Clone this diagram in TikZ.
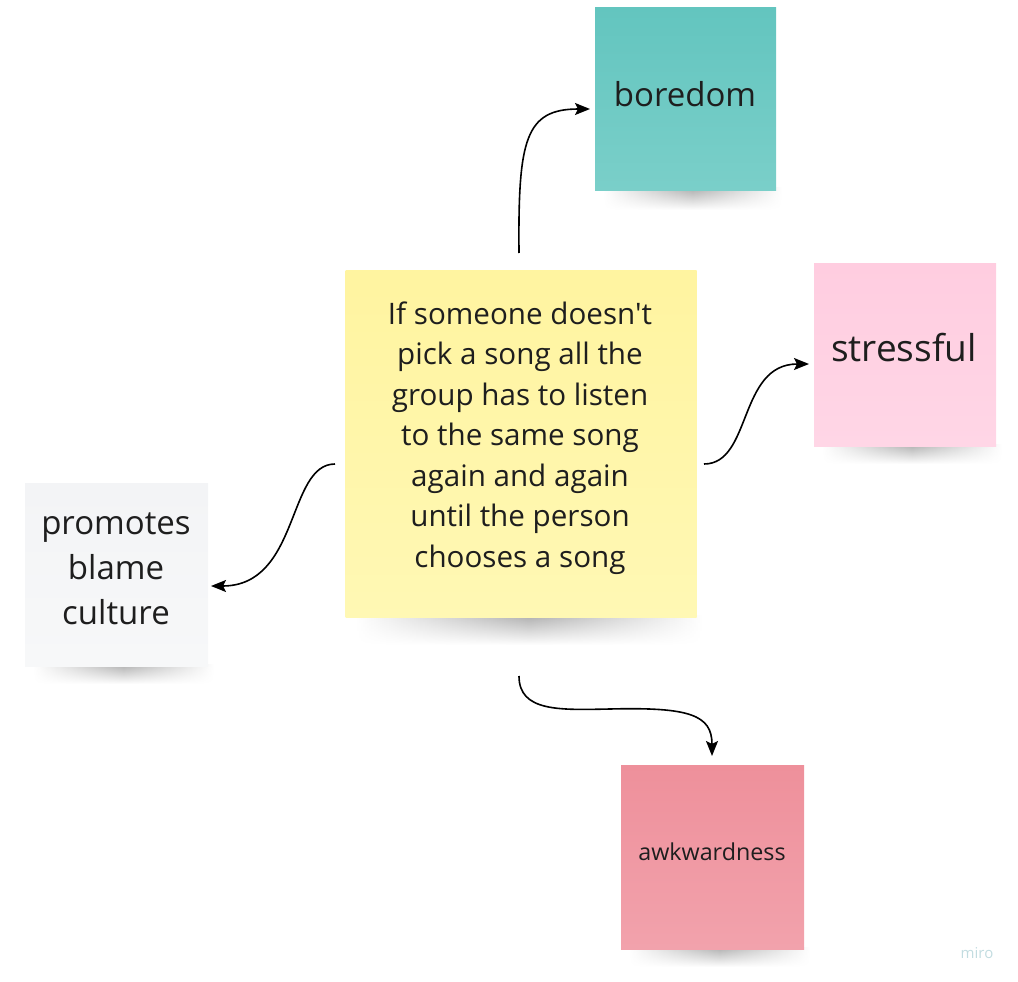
\documentclass[tikz,border=0pt]{standalone}
\usepackage{fontspec}
\setmainfont{Open Sans}[Ligatures=TeXOff]
\usetikzlibrary{arrows.meta,fadings}
\definecolor{tealA}{HTML}{63C5BF}
\definecolor{tealB}{HTML}{7ACFC9}
\definecolor{pinkA}{HTML}{FFCDE0}
\definecolor{pinkB}{HTML}{FFD6E6}
\definecolor{yelA}{HTML}{FFF4A0}
\definecolor{yelB}{HTML}{FFF8B4}
\definecolor{greyA}{HTML}{F3F4F6}
\definecolor{greyB}{HTML}{F7F8F9}
\definecolor{redA}{HTML}{EE909B}
\definecolor{redB}{HTML}{F2A2AC}
\definecolor{inkc}{HTML}{1E1E1E}
\definecolor{miroc}{HTML}{C2DCE0}
\tikzset{
  note/.style={rectangle, inner sep=0pt, align=center, text=inkc},
  conn/.style={line width=1.6pt, black, -{Stealth[length=15pt,width=12pt,inset=3pt]}},
  notesh/.style={left color=white, right color=white, middle color=black!32, path fading=south, draw=none}
}
\begin{document}
\begin{tikzpicture}[x=1pt,y=-1pt]
\useasboundingbox (0,0) rectangle (1018,982);
% shadows
\shade[notesh] (603,188) rectangle (782,210);
\shade[notesh] (822,444) rectangle (1002,464);
\shade[notesh] (355,615) rectangle (703,645);
\shade[notesh] (33,664) rectangle (214,684);
\shade[notesh] (629,947) rectangle (810,967);
% notes
\node[note, minimum width=181pt, minimum height=182pt, top color=tealA, bottom color=tealB] (bor) at (685.5,99) {};
\node[font=\fontsize{33}{40}\selectfont, text=inkc] (bort) at (685,94) {boredom};
\node[note, minimum width=182pt, minimum height=183pt, top color=pinkA, bottom color=pinkB] (str) at (905,354.5) {};
\node[font=\fontsize{37}{44}\selectfont, text=inkc] (strt) at (904,348) {stressful};
\node[note, minimum width=351pt, minimum height=347pt, top color=yelA, bottom color=yelB] (cen) at (521,444) {};
\node[font=\fontsize{29.6}{40.5}\selectfont, text=inkc, align=center] (cent) at (520,438)
  {If someone doesn't\\pick a song all the\\group has to listen\\to the same song\\again and again\\until the person\\chooses a song};
\node[note, minimum width=183pt, minimum height=183pt, top color=greyA, bottom color=greyB] (pro) at (116.5,574.5) {};
\node[font=\fontsize{33}{45}\selectfont, text=inkc, align=center] (prot) at (116,569) {promotes\\blame\\culture};
\node[note, minimum width=183pt, minimum height=184pt, top color=redA, bottom color=redB] (awk) at (712.5,857) {};
\node[font=\fontsize{23.3}{28}\selectfont, text=inkc] (awkt) at (712,852) {awkwardness};
\node[font=\fontsize{15}{18}\selectfont, text=miroc] (miro) at (977,953) {miro};
% connector end points
\coordinate (c1s) at (519,253);
\coordinate (c1e) at (590,109);
\coordinate (c2s) at (704,464);
\coordinate (c2e) at (809,364);
\coordinate (c3s) at (335,464);
\coordinate (c3e) at (211,586);
\coordinate (c4s) at (519,676);
\coordinate (c4m) at (610,709);
\coordinate (c4e) at (712,756);
% connectors
\draw[conn] (c1s) .. controls (518,140) and (525,109) .. (c1e);
\draw[conn] (c2s) .. controls (752,464) and (738,364) .. (c2e);
\draw[conn] (c3s) .. controls (287,464) and (300,586) .. (c3e);
\draw[conn] (c4s) .. controls (519,712) and (560,710) .. (c4m) .. controls (690,707) and (712,715) .. (c4e);
\end{tikzpicture}
\end{document}
